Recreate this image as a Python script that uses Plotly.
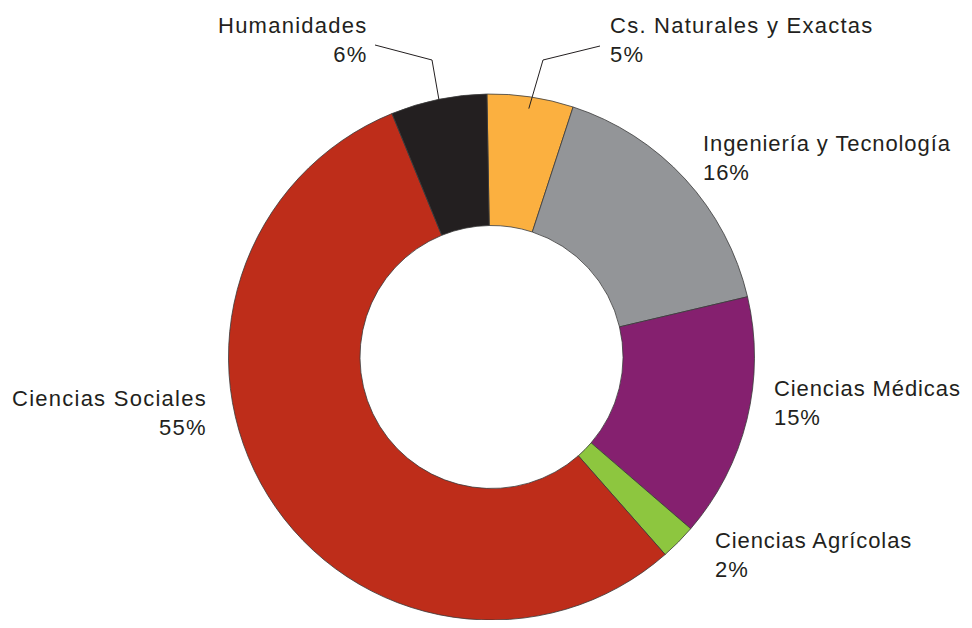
import numpy as np
import plotly.graph_objects as go

categories = ["Cs. Naturales y Exactas", "Ingeniería y Tecnología", "Ciencias Médicas",
              "Ciencias Agrícolas", "Ciencias Sociales", "Humanidades"]
values = [5.3, 16.3, 15.0, 2.2, 55.3, 5.9]
pct_labels = ["5%", "16%", "15%", "2%", "55%", "6%"]
colors = ["#FBB040", "#939598", "#85206F", "#8DC63F", "#BE2D1A", "#231F20"]

OFF = 8  # page body margin in the browser
W, H = 972 - 2 * OFF, 628 - 2 * OFF
TOP = 94.0             # screenshot y of the top of the ring
R = (H + OFF - TOP) / 2  # radius so the ring fits the figure
CX, CY = 491.5, TOP + R
ROT = -1

def fx(x):
    return (x - OFF) / W

def fy(y):
    return 1 - (y - OFF) / H

fig = go.Figure(go.Pie(
    labels=categories,
    values=values,
    sort=False,
    direction="clockwise",
    rotation=ROT,
    hole=0.5,
    marker=dict(colors=colors, line=dict(color="#3a3a3a", width=0.8)),
    textinfo="none",
    hoverinfo="skip",
    showlegend=False,
    domain=dict(x=[fx(CX - R), fx(CX + R)], y=[0, fy(TOP)]),
))

# label positions (screenshot pixel coords of text block centre), alignment
label_pos = {
    "Humanidades": (370, 40, "right"),
    "Cs. Naturales y Exactas": (608, 40, "left"),
    "Ingeniería y Tecnología": (701, 158, "left"),
    "Ciencias Médicas": (772, 403, "left"),
    "Ciencias Agrícolas": (713, 555, "left"),
    "Ciencias Sociales": (209, 413, "right"),
}

font = dict(family="Liberation Sans, Arial, sans-serif", size=22, color="#231F20")
annotations = []
for cat, pct in zip(categories, pct_labels):
    x, y, al = label_pos[cat]
    ls = 0.9 if x > 700 else 1.25
    sp = f'<span style="letter-spacing:{ls}px">'
    annotations.append(dict(
        x=fx(x), y=fy(y), xref="paper", yref="paper",
        xanchor=al, yanchor="middle", align=al,
        text=f"{sp}{cat}</span><br>{sp}{pct}</span>", showarrow=False, font=font,
    ))

# leader lines for the two small top slices, ending at slice mid-angle
cum = np.cumsum([0] + values)
total = cum[-1]
def mid_point(i, rf):
    a = np.deg2rad((cum[i] + values[i] / 2) / total * 360 + ROT)
    return CX + rf * R * np.sin(a), CY - rf * R * np.cos(a)

shapes = []
leaders = {
    5: [(375, 45), (432, 60)],
    0: [(600, 46), (543, 60)],
}
for i, pts in leaders.items():
    ex, ey = mid_point(i, 0.955)
    allp = pts + [(ex, ey)]
    path = "M " + " L ".join(f"{fx(a)},{fy(b)}" for a, b in allp)
    shapes.append(dict(type="path", path=path, xref="paper", yref="paper",
                       line=dict(color="#231F20", width=1)))

fig.update_layout(
    width=W, height=H,
    margin=dict(l=0, r=0, t=0, b=0),
    paper_bgcolor="white", plot_bgcolor="white",
    annotations=annotations,
    shapes=shapes,
)

fig.write_html("out.html")
